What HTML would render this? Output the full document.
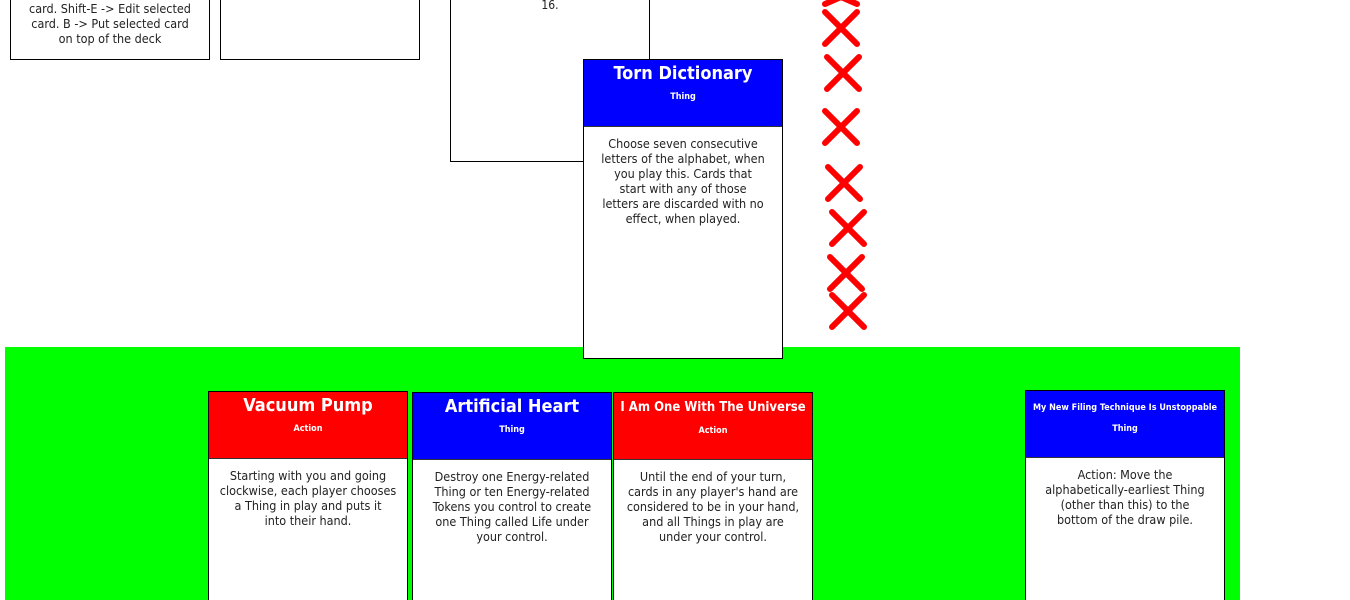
<!DOCTYPE html>
<html style="overflow:hidden;width:1350px;height:600px"><head><style>
body{margin:0;width:1350px;height:600px;position:relative;overflow:hidden;background:#fff;font-family:"DejaVu Sans Condensed","DejaVu Sans","Liberation Sans",sans-serif;}
.a{position:absolute;box-sizing:border-box}
.box{border:1px solid #000;background:#fff;text-align:center;font-size:12px;line-height:15px;color:#222}
.card{position:absolute;width:200px;border:1px solid #000;background:#fff;box-sizing:border-box}
.hd{height:66px;color:#fff;text-align:center;font-weight:bold;border-bottom:1px solid #333;white-space:nowrap;overflow:hidden}
.t{font-size:18px;padding-top:2px;line-height:24px}
.s{font-size:9px;line-height:14px;margin-top:4px}
.bd{font-size:12.5px;line-height:15px;text-align:center;color:#222;padding:9px 0 0;white-space:nowrap}
</style></head><body>
<div class="a box" style="left:10px;top:-20px;width:200px;height:80px"><div style="position:absolute;top:20px;left:0;right:0;font-size:12.5px">card. Shift-E -&gt; Edit selected<br>card. B -&gt; Put selected card<br>on top of the deck</div></div>
<div class="a box" style="left:220px;top:-20px;width:200px;height:80px"></div>
<div class="a box" style="left:450px;top:-20px;width:200px;height:182px"><div style="position:absolute;top:17px;left:0;right:0">16.</div></div>
<div class="a" style="left:5px;top:347px;width:1235px;height:253px;background:#00ff00"></div>

<div class="card" style="left:583px;top:59px;height:300px"><div class="hd" style="background:#0000ff"><div class="t">Torn Dictionary</div><div class="s">Thing</div></div><div class="bd">Choose seven consecutive<br>letters of the alphabet, when<br>you play this. Cards that<br>start with any of those<br>letters are discarded with no<br>effect, when played.</div></div>

<div class="card" style="left:208px;top:391px;height:230px"><div class="hd" style="background:#ff0000"><div class="t">Vacuum Pump</div><div class="s">Action</div></div><div class="bd">Starting with you and going<br>clockwise, each player chooses<br>a Thing in play and puts it<br>into their hand.</div></div>
<div class="card" style="left:412px;top:392px;height:230px"><div class="hd" style="background:#0000ff"><div class="t">Artificial Heart</div><div class="s">Thing</div></div><div class="bd">Destroy one Energy-related<br>Thing or ten Energy-related<br>Tokens you control to create<br>one Thing called Life under<br>your control.</div></div>
<div class="card" style="left:613px;top:392px;height:230px"><div class="hd" style="background:#ff0000"><div class="t" style="font-size:13px;padding-top:3px">I Am One With The Universe</div><div class="s">Action</div></div><div class="bd">Until the end of your turn,<br>cards in any player's hand are<br>considered to be in your hand,<br>and all Things in play are<br>under your control.</div></div>
<div class="card" style="left:1025px;top:390px;height:230px"><div class="hd" style="background:#0000ff"><div class="t" style="font-size:9px;padding-top:5px">My New Filing Technique Is Unstoppable</div><div class="s" style="margin-top:2px">Thing</div></div><div class="bd">Action: Move the<br>alphabetically-earliest Thing<br>(other than this) to the<br>bottom of the draw pile.</div></div>

<svg class="a" style="left:0;top:0" width="1350" height="600">
<g stroke="#ff0000" stroke-width="6" stroke-linecap="round">
<path d="M825 -10 L857 4 M857 -10 L825 4"/>
<path d="M825 12 L857 44 M857 12 L825 44"/>
<path d="M827 57 L859 89 M859 57 L827 89"/>
<path d="M825 111 L857 143 M857 111 L825 143"/>
<path d="M828 167 L860 199 M860 167 L828 199"/>
<path d="M832 212 L864 244 M864 212 L832 244"/>
<path d="M830 257 L862 289 M862 257 L830 289"/>
<path d="M832 295 L864 327 M864 295 L832 327"/>
</g></svg>
</body></html>
